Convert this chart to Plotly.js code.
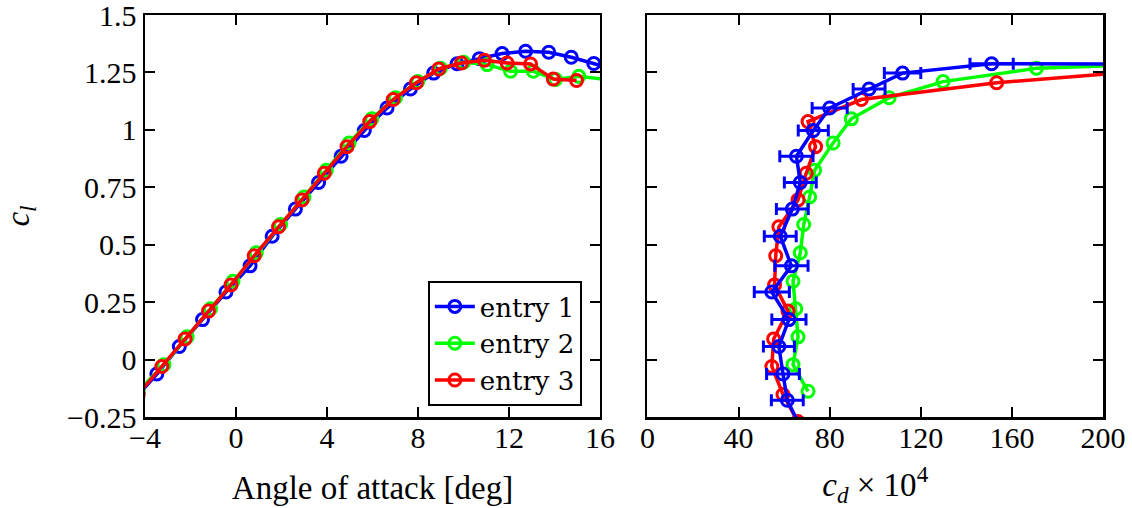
<!DOCTYPE html>
<html>
<head>
<meta charset="utf-8">
<script src="https://cdn.plot.ly/plotly-3.0.1.min.js"></script>
<style>html,body{margin:0;padding:0;background:#fff}</style>
</head>
<body>
<div id="chart" style="width:1132px;height:508px"></div>
<script>
// ---- data ----
const seriesNames = ['entry 1', 'entry 2', 'entry 3'];

// entry 1 (blue)
const blueAlpha = [-5.5, -4.5, -3.48, -2.49, -1.47, -0.44, 0.62, 1.59, 2.61, 3.63, 4.62, 5.64, 6.64, 7.67, 8.69, 9.72, 10.70, 11.70, 12.73, 13.75, 14.74, 15.73, 16.73];
const blueCl    = [-0.29, -0.177, -0.063, 0.057, 0.174, 0.294, 0.408, 0.537, 0.655, 0.771, 0.885, 0.997, 1.095, 1.178, 1.247, 1.288, 1.31, 1.332, 1.342, 1.338, 1.316, 1.289, 1.26];
const blueCd    = [67, 61.4, 59.5, 57.7, 62.1, 54.6, 63.2, 58.3, 63.6, 67.1, 65.4, 72.8, 80, 97.3, 112, 151.1, 420, 500, 580, 660, 740, 820, 900];
const blueCdErr = [7, 7, 7.2, 6.8, 7.5, 7.7, 7.3, 7, 7, 7, 7.3, 6.6, 7.7, 7, 8, 9.5, 10, 10, 10, 10, 10, 10, 10];

// entry 2 (green)
const greenAlpha = [-4.3, -3.17, -2.15, -1.12, -0.13, 0.89, 1.96, 2.99, 3.97, 4.97, 5.97, 7.01, 7.99, 8.99, 10.01, 11.04, 12.07, 13.07, 14.05, 15.07, 16.6];
const greenCl    = [-0.138, -0.022, 0.099, 0.221, 0.341, 0.465, 0.588, 0.708, 0.824, 0.943, 1.048, 1.14, 1.21, 1.268, 1.294, 1.284, 1.255, 1.255, 1.219, 1.233, 1.215];
const greenCd    = [70.5, 63.9, 66.1, 65.1, 63.9, 67.1, 68.6, 71.2, 73.4, 81.5, 89.5, 106.1, 129.8, 170.8, 250, 300, 350, 400, 450, 500, 550];

// entry 3 (red)
const redAlpha = [-5.25, -4.3, -3.26, -2.24, -1.21, -0.22, 0.80, 1.87, 2.90, 3.88, 4.88, 5.88, 6.91, 7.93, 8.91, 9.91, 10.92, 11.92, 12.95, 13.95, 14.97];
const redCl    = [-0.27, -0.152, -0.03, 0.09, 0.211, 0.325, 0.452, 0.578, 0.695, 0.811, 0.927, 1.036, 1.132, 1.205, 1.265, 1.291, 1.303, 1.291, 1.287, 1.221, 1.215];
const redCd    = [66, 59.5, 54.6, 55.4, 61.7, 55.8, 56.3, 57.7, 66.1, 69.7, 73.8, 70.5, 93.9, 153.3, 228, 280, 330, 380, 430, 480, 530];

// ticks
const yTickVals  = [-0.25, 0, 0.25, 0.5, 0.75, 1, 1.25, 1.5];
const yTickText  = ['\u22120.25', '0', '0.25', '0.5', '0.75', '1', '1.25', '1.5'];
const x1TickVals = [-4, 0, 4, 8, 12, 16];
const x1TickText = ['\u22124', '0', '4', '8', '12', '16'];
const x2TickVals = [0, 40, 80, 120, 160, 200];
const x2TickText = ['0', '40', '80', '120', '160', '200'];

// ---- styles ----
const FONT = '"Liberation Serif", "Times New Roman", "DejaVu Serif", serif';
const LEGFONT = '"DejaVu Serif", "Liberation Serif", serif';
const BLUE = '#0000ff', GREEN = '#00ff00', RED = '#ff0000';
function mk(color) {
  return {symbol: 'circle-open', size: 12, color: color, line: {width: 3, color: color}};
}
function ln(color) { return {color: color, width: 3.5}; }

const traces = [
  {x: blueAlpha, y: blueCl, name: seriesNames[0], mode: 'lines+markers', line: ln(BLUE), marker: mk(BLUE), xaxis: 'x', yaxis: 'y'},
  {x: greenAlpha, y: greenCl, name: seriesNames[1], mode: 'lines+markers', line: ln(GREEN), marker: mk(GREEN), xaxis: 'x', yaxis: 'y'},
  {x: redAlpha, y: redCl, name: seriesNames[2], mode: 'lines+markers', line: ln(RED), marker: mk(RED), xaxis: 'x', yaxis: 'y'},
  {x: greenCd, y: greenCl, name: seriesNames[1], mode: 'lines+markers', line: ln(GREEN), marker: mk(GREEN), xaxis: 'x2', yaxis: 'y2', showlegend: false},
  {x: redCd, y: redCl, name: seriesNames[2], mode: 'lines+markers', line: ln(RED), marker: mk(RED), xaxis: 'x2', yaxis: 'y2', showlegend: false},
  {x: blueCd, y: blueCl, name: seriesNames[0], mode: 'lines+markers', line: ln(BLUE), marker: mk(BLUE), xaxis: 'x2', yaxis: 'y2', showlegend: false,
   error_x: {type: 'data', array: blueCdErr, visible: true, color: BLUE, thickness: 3, width: 6}}
];

const axisCommon = {
  showline: true, linecolor: 'black', linewidth: 2.5, mirror: 'ticks',
  ticks: 'inside', ticklen: 10, tickwidth: 2, tickcolor: 'black',
  showgrid: false, zeroline: false, tickmode: 'array',
  ticklabeloverflow: 'allow',
  tickfont: {family: FONT, size: 30, color: 'black'}
};

const layout = {
  width: 1132, height: 508,
  margin: {l: 145, r: 29, t: 15, b: 91, pad: 0},
  paper_bgcolor: 'white', plot_bgcolor: 'white',
  font: {family: FONT, size: 30, color: 'black'},
  showlegend: true,
  legend: {
    x: 0.456, xanchor: 'right', y: 0.0274, yanchor: 'bottom',
    bgcolor: 'white', bordercolor: 'black', borderwidth: 2,
    font: {family: LEGFONT, size: 26, color: 'black'},
    tracegroupgap: 0, itemwidth: 40
  },
  xaxis: Object.assign({}, axisCommon, {
    domain: [0, 0.4749], range: [-4, 16], anchor: 'y',
    tickvals: x1TickVals, ticktext: x1TickText, ticklabelstandoff: -8,
    title: {text: 'Angle of attack [deg]', standoff: 24, font: {family: FONT, size: 33, color: 'black'}}
  }),
  yaxis: Object.assign({}, axisCommon, {
    range: [-0.25, 1.5], anchor: 'x',
    tickvals: yTickVals, ticktext: yTickText, ticklabelstandoff: 0,
    title: {text: '<i>c</i><sub><i>l</i></sub>', standoff: 40, font: {family: FONT, size: 33, color: 'black'}}
  }),
  xaxis2: Object.assign({}, axisCommon, {
    domain: [0.5245, 1], range: [0, 200], anchor: 'y2',
    tickvals: x2TickVals, ticktext: x2TickText, ticklabelstandoff: -8,
    title: {text: '<i>c</i><sub><i>d</i></sub> \u00d7 10<sup>4</sup>', standoff: 24, font: {family: FONT, size: 33, color: 'black'}}
  }),
  yaxis2: Object.assign({}, axisCommon, {
    range: [-0.25, 1.5], anchor: 'x2',
    tickvals: yTickVals, ticktext: yTickText, showticklabels: false
  })
};

Plotly.newPlot('chart', traces, layout, {displayModeBar: false, staticPlot: true});
</script>
</body>
</html>
